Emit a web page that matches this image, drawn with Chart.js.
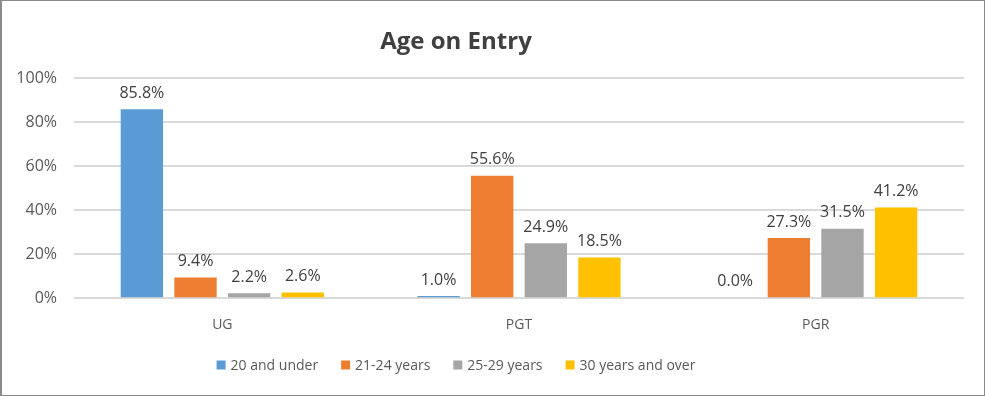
<!DOCTYPE html>
<html>
<head>
<meta charset="utf-8">
<script src="https://cdn.jsdelivr.net/npm/chart.js@4/dist/chart.umd.min.js"></script>
<style>
  html, body { margin: 0; padding: 0; background: #fff; }
  #wrap { width: 985px; height: 396px; box-sizing: border-box; border: 1px solid #8a8a8a; border-left-width: 2px; }
</style>
</head>
<body>
<div id="wrap"><canvas id="chart" width="982" height="394"></canvas></div>
<script>
const categories = ['UG', 'PGT', 'PGR'];
const under20 = [85.8, 1.0, 0.0];
const age21to24 = [9.4, 55.6, 27.3];
const age25to29 = [2.2, 24.9, 31.5];
const age30plus = [2.6, 18.5, 41.2];
const seriesNames = ['20 and under', '21-24 years', '25-29 years', '30 years and over'];
const seriesColors = ['#5b9bd5', '#ed7d31', '#a5a5a5', '#ffc000'];
const yTicks = [0, 20, 40, 60, 80, 100];
const chartTitle = 'Age on Entry';

const fontFamily = "'Open Sans', 'Liberation Sans', sans-serif";

// value above each bar
const valueLabels = {
    id: 'valueLabels',
    afterDatasetsDraw(chart) {
        const ctx = chart.ctx;
        ctx.save();
        ctx.font = '16px ' + fontFamily;
        ctx.fillStyle = '#404040';
        ctx.textAlign = 'center';
        ctx.textBaseline = 'bottom';
        chart.data.datasets.forEach((ds, i) => {
            chart.getDatasetMeta(i).data.forEach((bar, j) => {
                ctx.fillText(ds.data[j].toFixed(1) + '%', bar.x, bar.y - 8);
            });
        });
        ctx.restore();
    }
};

// title and legend, centred like the Excel original (a bit left of the middle)
const titleAndLegend = {
    id: 'titleAndLegend',
    afterDraw(chart) {
        const ctx = chart.ctx;
        const cx = 454;
        ctx.save();
        ctx.fillStyle = '#404040';
        ctx.font = 'bold 24px ' + fontFamily;
        ctx.textAlign = 'center';
        ctx.textBaseline = 'middle';
        ctx.fillText(chartTitle, cx, 41);

        ctx.font = '14px ' + fontFamily;
        ctx.textAlign = 'left';
        const box = 9, gap = 5, spacing = 23;
        const widths = seriesNames.map(n => box + gap + ctx.measureText(n).width);
        const total = widths.reduce((a, b) => a + b, 0) + spacing * (widths.length - 1);
        let x = cx - total / 2;
        const y = 364;
        chart.data.datasets.forEach((ds, i) => {
            ctx.fillStyle = ds.backgroundColor;
            ctx.fillRect(x, y - box / 2, box, box);
            ctx.fillStyle = '#595959';
            ctx.fillText(ds.label, x + box + gap, y + 1);
            x += widths[i] + spacing;
        });
        ctx.restore();
    }
};

new Chart(document.getElementById('chart'), {
    type: 'bar',
    data: {
        labels: categories,
        datasets: [under20, age21to24, age25to29, age30plus].map((d, i) => ({
            label: seriesNames[i],
            data: d,
            backgroundColor: seriesColors[i],
            categoryPercentage: 0.723,
            barPercentage: 0.79,
            minBarLength: 1
        }))
    },
    options: {
        responsive: false,
        animation: false,
        layout: { padding: { left: 12, right: 20, top: 77, bottom: 52 } },
        plugins: {
            title: { display: false },
            legend: { display: false },
            tooltip: { enabled: false }
        },
        scales: {
            x: {
                grid: { display: false },
                border: { display: false },
                ticks: { color: '#595959', font: { family: fontFamily, size: 14 }, padding: 10 }
            },
            y: {
                min: 0,
                max: 100,
                afterBuildTicks: axis => { axis.ticks = yTicks.map(v => ({ value: v })); },
                afterFit: axis => { axis.width = 60; },
                grid: { color: '#d9d9d9', lineWidth: 2, drawTicks: false },
                border: { display: false },
                ticks: {
                    color: '#595959',
                    font: { family: fontFamily, size: 16 },
                    padding: 17,
                    callback: v => v + '%'
                }
            }
        }
    },
    plugins: [valueLabels, titleAndLegend]
});
</script>
</body>
</html>
